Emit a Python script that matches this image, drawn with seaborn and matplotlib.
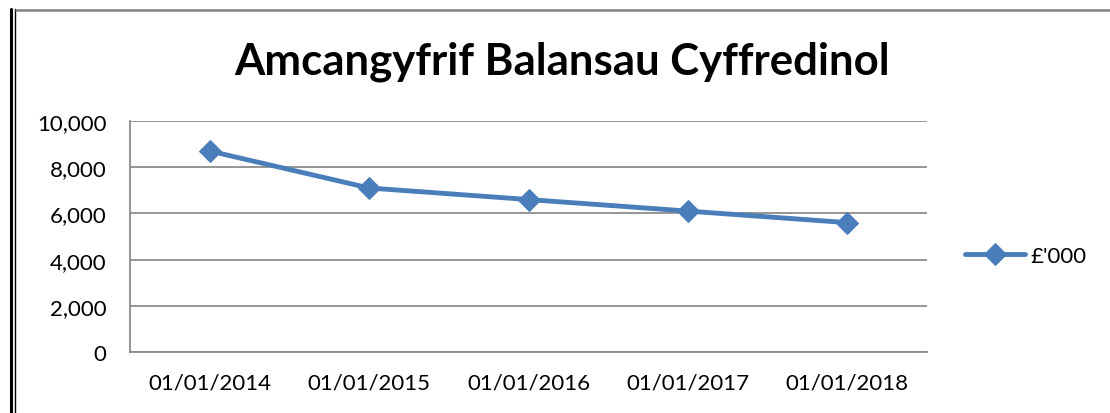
import pandas as pd
import numpy as np
import seaborn as sns
from matplotlib import pyplot as plt
from matplotlib.lines import Line2D
from matplotlib.ticker import FuncFormatter, FixedLocator

# data
dates = ["01/01/2014", "01/01/2015", "01/01/2016", "01/01/2017", "01/01/2018"]
balances = [8700, 7100, 6600, 6100, 5600]
series_name = "£'000"
title = "Amcangyfrif Balansau Cyffredinol"

df = pd.DataFrame({"date": dates, "value": balances})

sns.set_theme(style="white")
plt.rcParams['font.family'] = ['Lato', 'DejaVu Sans']

W, H = 1110, 414
fig = plt.figure(figsize=(W / 100, H / 100), dpi=100)
ax = fig.add_axes([130 / W, 1 - 353 / H, (927 - 130) / W, (353 - 122) / H])

line_col = "#4A7EBB"
grid_col = "#8C8C8C"

sns.lineplot(data=df, x="date", y="value", ax=ax, color=line_col, linewidth=3.5,
             marker="D", markersize=11, markeredgecolor=line_col,
             label=series_name, sort=False)

ax.set_xlim(-0.5, len(dates) - 0.5)
ax.set_ylim(0, 10000)
ax.set_yticks(np.arange(0, 10001, 2000))
ax.yaxis.set_major_formatter(FuncFormatter(lambda v, p: f"{int(v):,}"))
ax.grid(axis="y", color=grid_col, linewidth=1.3)
ax.set_axisbelow(True)

# category boundaries get ticks, labels sit in the middle
ax.xaxis.set_major_locator(FixedLocator(np.arange(-0.5, len(dates), 1.0)))
ax.xaxis.set_minor_locator(FixedLocator(np.arange(len(dates))))
ax.set_xticklabels([], minor=False)
ax.set_xticklabels(dates, minor=True)
ax.tick_params(axis="x", which="major", length=6, width=1.3, color=grid_col, direction="out")
ax.tick_params(axis="x", which="minor", length=0, pad=15, labelsize=16, labelcolor="black")
ax.tick_params(axis="y", length=6, width=1.3, color=grid_col, direction="out",
               labelsize=16, labelcolor="black", pad=11)
ax.set_xlabel("")
ax.set_ylabel("")

for s in ["top", "right"]:
    ax.spines[s].set_visible(False)
for s in ["left", "bottom"]:
    ax.spines[s].set_color(grid_col)
    ax.spines[s].set_linewidth(1.3)

leg = ax.legend(loc="center left", bbox_to_anchor=(1.036, 0.415), frameon=False,
                fontsize=16, handlelength=2.7, handletextpad=0.25, borderaxespad=0)
for t in leg.get_texts():
    t.set_color("black")

fig.text(562 / W, 1 - 62 / H, title, ha="center", va="center",
         fontsize=31.5, fontweight="bold", color="black")

# chart frame
fig.add_artist(Line2D([11 / W, 11 / W], [0, 1 - 10 / H], color="black", linewidth=2.2,
                      transform=fig.transFigure))
fig.add_artist(Line2D([14.5 / W, 14.5 / W], [0, 1 - 10 / H], color="black", linewidth=1,
                      transform=fig.transFigure))
fig.add_artist(Line2D([16 / W, 1], [1 - 10.5 / H, 1 - 10.5 / H], color="#808080", linewidth=1.8,
                      transform=fig.transFigure))

fig.savefig("out.png", dpi=100)
